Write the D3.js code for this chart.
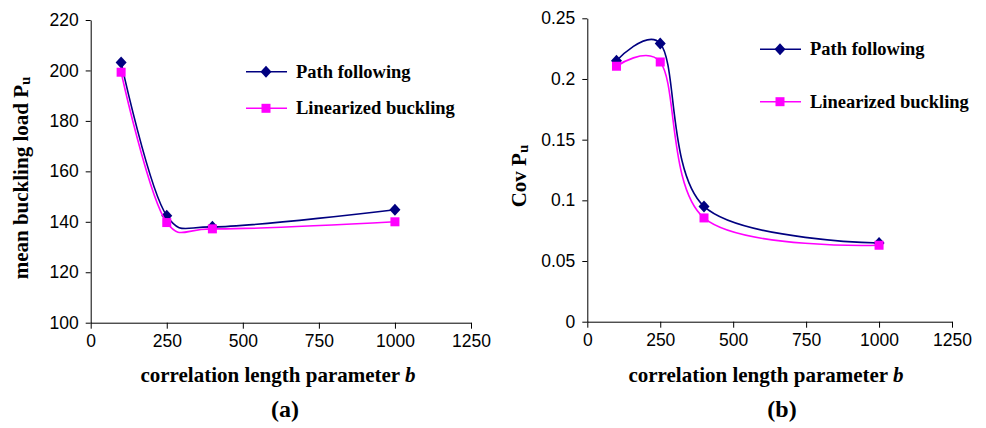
<!DOCTYPE html>
<html>
<head>
<meta charset="utf-8">
<script src="https://cdn.jsdelivr.net/npm/d3@7"></script>
<style>
  body { margin: 0; background: #fff; }
  svg { display: block; }
  .tick text { font-family: "Liberation Sans", Arial, sans-serif; font-size: 17.5px; fill: #000; }
  .domain, .tick line { stroke: #000; stroke-width: 1px; }
  .ttl { font-family: "Liberation Serif", "Times New Roman", serif; font-weight: bold; fill: #000; }
</style>
</head>
<body>
<svg id="chart" width="986" height="428"></svg>
<script>
// correlation length parameter b
var bValues = [100, 250, 400, 1000];
var xTicks = [0, 250, 500, 750, 1000, 1250];

// (a) mean buckling load Pu
var meanPathFollowing = [203.2, 142.4, 138.0, 144.8];
var meanLinearized = [199.3, 139.7, 137.2, 140.0];
var meanTicks = [100, 120, 140, 160, 180, 200, 220];

// (b) Cov Pu
var covPathFollowing = [0.215, 0.2293, 0.0950, 0.0648];
var covLinearized = [0.2105, 0.2140, 0.0855, 0.0630];
var covTicks = [0, 0.05, 0.1, 0.15, 0.2, 0.25];

var seriesNames = ["Path following", "Linearized buckling"];
var seriesColors = ["#000080", "#ff00ff"];

var svg = d3.select("#chart");

function drawPanel(opt) {
    var x = d3.scaleLinear().domain([0, 1250]).range([opt.left, opt.right]);
    var y = d3.scaleLinear().domain(opt.yDomain).range([opt.bottom, opt.top]);
    var g = svg.append("g");

    g.append("g")
        .attr("transform", "translate(0," + opt.bottom + ")")
        .call(d3.axisBottom(x).tickValues(xTicks).tickSize(6).tickSizeOuter(0).tickPadding(6)
            .tickFormat(function(d) { return String(d); }));
    g.append("g")
        .attr("transform", "translate(" + opt.left + ",0)")
        .call(d3.axisLeft(y).tickValues(opt.yTicks).tickSize(5).tickSizeOuter(0).tickPadding(7)
            .tickFormat(opt.fmt));

    // smoothed line, close to the spreadsheet's smoothing
    var line = d3.line()
        .x(function(d) { return x(d[0]); })
        .y(function(d) { return y(d[1]); })
        .curve(d3.curveCatmullRom.alpha(0.2));

    opt.series.forEach(function(vals, i) {
        var pts = bValues.map(function(b, j) { return [b, vals[j]]; });
        g.append("path")
            .attr("d", line(pts))
            .attr("fill", "none")
            .attr("stroke", seriesColors[i])
            .attr("stroke-width", 1.6);
        pts.forEach(function(p) {
            drawMarker(g, i, x(p[0]), y(p[1]));
        });
    });

    // legend
    seriesNames.forEach(function(name, i) {
        var ly = opt.legendY[i];
        g.append("line")
            .attr("x1", opt.legendX).attr("x2", opt.legendX + 41)
            .attr("y1", ly).attr("y2", ly)
            .attr("stroke", seriesColors[i]).attr("stroke-width", 1.6);
        drawMarker(g, i, opt.legendX + 20, ly);
        g.append("text").attr("class", "ttl")
            .attr("x", opt.legendX + 50).attr("y", ly + 6)
            .style("font-size", "18.5px")
            .text(name);
    });

    // axis titles
    var xt = g.append("text").attr("class", "ttl")
        .attr("x", opt.xTitleX).attr("y", 382)
        .attr("text-anchor", "middle")
        .style("font-size", "21px");
    xt.append("tspan").text("correlation length parameter ");
    xt.append("tspan").style("font-style", "italic").text("b");

    var yt = g.append("text").attr("class", "ttl")
        .attr("transform", "translate(" + opt.yTitleX + "," + opt.yTitleY + ") rotate(-90)")
        .attr("text-anchor", "middle")
        .style("font-size", "21px");
    yt.append("tspan").text(opt.yTitle + " P");
    yt.append("tspan").style("font-size", "15px").attr("dy", 2).text("u");

    g.append("text").attr("class", "ttl")
        .attr("x", opt.labelX).attr("y", 417)
        .attr("text-anchor", "middle")
        .style("font-size", "24px")
        .text(opt.label);
}

function drawMarker(g, i, cx, cy) {
    if (i === 0) {
        g.append("path")
            .attr("d", "M0,-6L5.5,0L0,6L-5.5,0Z")
            .attr("transform", "translate(" + cx + "," + cy + ")")
            .attr("fill", seriesColors[i]);
    } else {
        g.append("rect")
            .attr("x", cx - 4.5).attr("y", cy - 4.5)
            .attr("width", 9).attr("height", 9)
            .attr("fill", seriesColors[i]);
    }
}

drawPanel({
    left: 90.7, right: 471, top: 20, bottom: 322.7,
    yDomain: [100, 220], yTicks: meanTicks,
    fmt: function(d) { return String(d); },
    series: [meanPathFollowing, meanLinearized],
    legendX: 246, legendY: [71.7, 108.3],
    xTitleX: 278, yTitleX: 28, yTitleY: 178, yTitle: "mean buckling load",
    labelX: 285, label: "(a)"
});

drawPanel({
    left: 587.3, right: 952, top: 18.3, bottom: 321.7,
    yDomain: [0, 0.25], yTicks: covTicks,
    fmt: function(d) { return String(+d.toFixed(2)); },
    series: [covPathFollowing, covLinearized],
    legendX: 760, legendY: [49.3, 101.7],
    xTitleX: 766, yTitleX: 526, yTitleY: 176, yTitle: "Cov",
    labelX: 782, label: "(b)"
});
</script>
</body>
</html>
